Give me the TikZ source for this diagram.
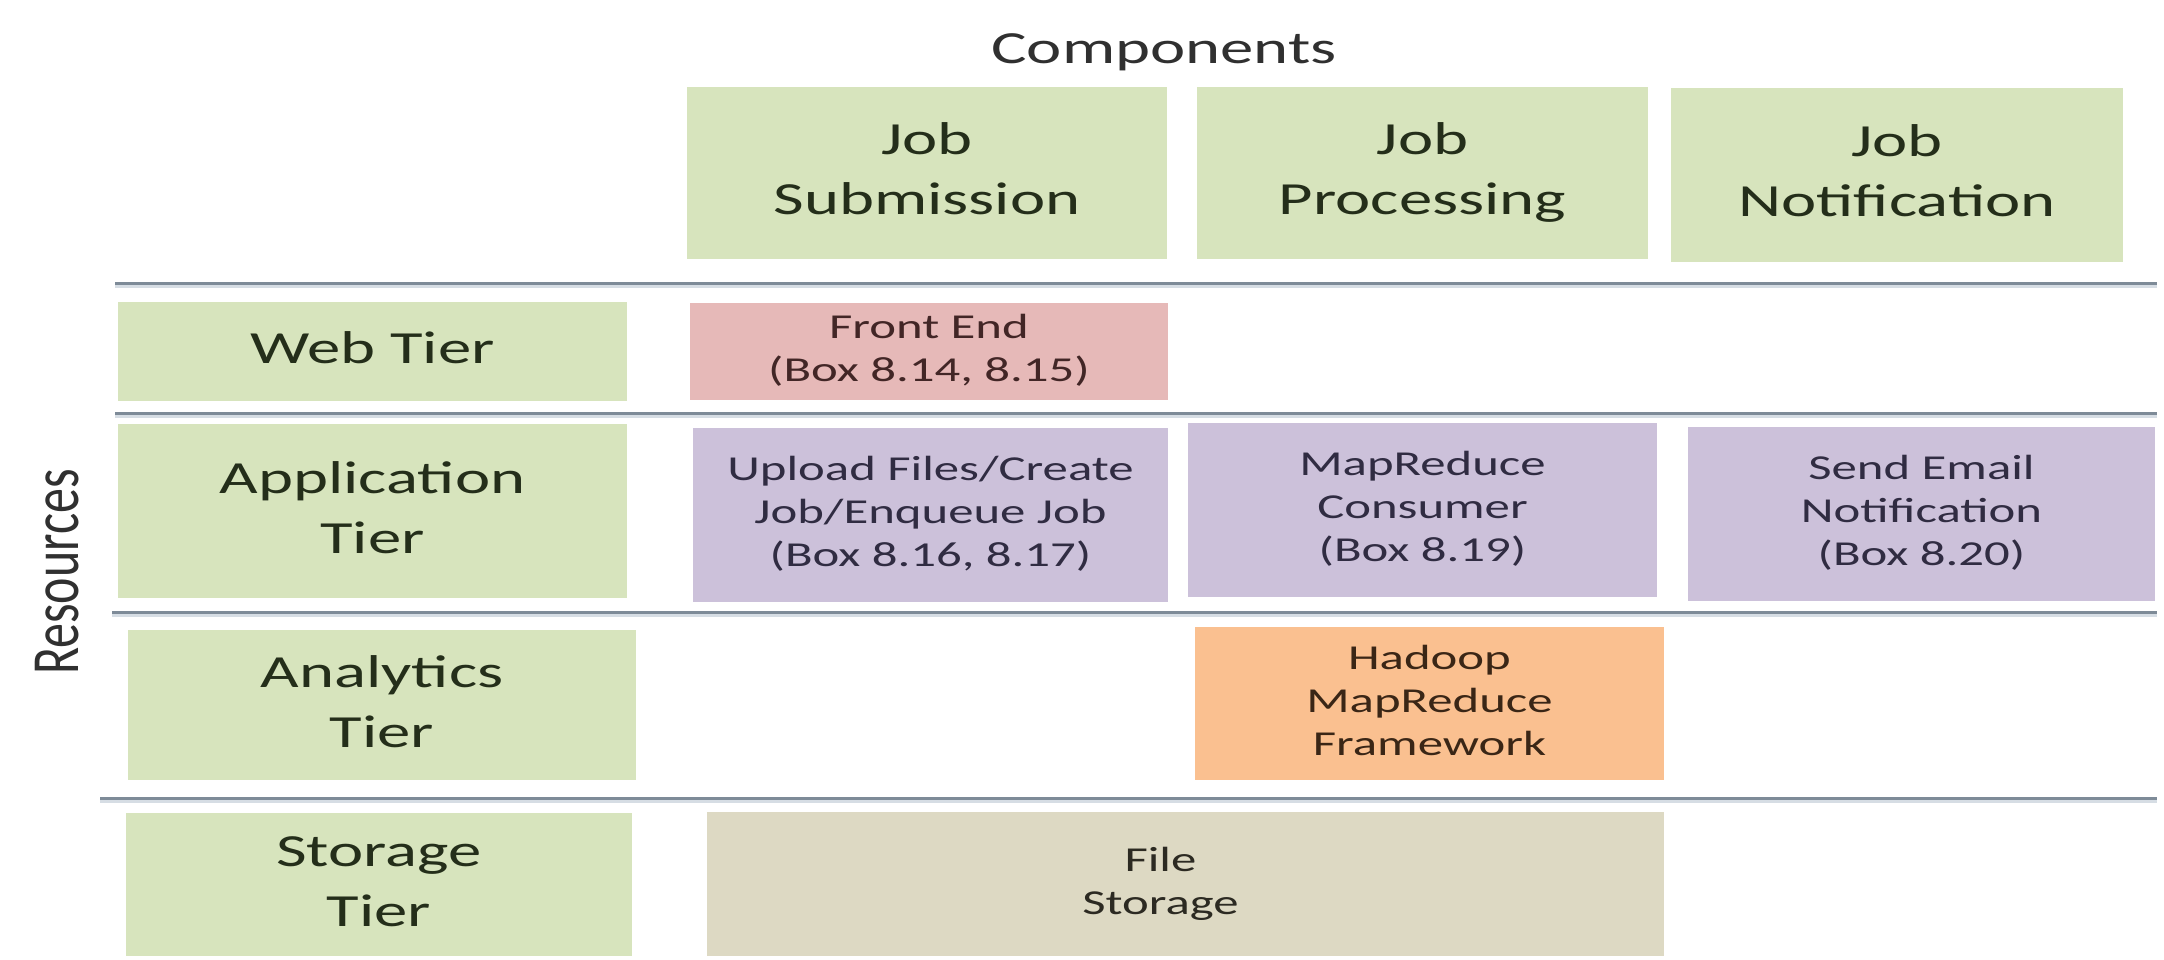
\documentclass[tikz,border=0pt]{standalone}
\usepackage{fontspec}
\setmainfont{Carlito}
\usepackage{graphicx}

% fills
\definecolor{tiergreen}{RGB}{215,228,189}
\definecolor{webpink}{RGB}{230,185,184}
\definecolor{apppurple}{RGB}{204,193,218}
\definecolor{anaorange}{RGB}{250,192,144}
\definecolor{stotan}{RGB}{221,217,195}
% text colours
\definecolor{txtgreen}{RGB}{36,46,26}
\definecolor{txtpink}{RGB}{66,38,38}
\definecolor{txtpurple}{RGB}{48,44,66}
\definecolor{txtorange}{RGB}{58,38,22}
\definecolor{txttan}{RGB}{44,42,34}
\definecolor{txtgray}{RGB}{48,48,48}
% separators
\definecolor{sepline}{RGB}{126,139,152}
\definecolor{sepshade}{RGB}{214,221,228}

% wide multi-line text block
\newcommand{\widetext}[1]{\scalebox{1.45}[1]{\begin{tabular}{@{}c@{}}#1\end{tabular}}}
\newcommand{\bigfont}{\fontsize{46}{60}\selectfont}
\newcommand{\smallfont}{\fontsize{35}{43}\selectfont}

\begin{document}
\begin{tikzpicture}[x=1pt,y=-1pt,
  cell/.style={rectangle, draw=none, inner sep=0pt, align=center},
  headbox/.style={cell, fill=tiergreen, text=txtgreen, font=\bigfont},
  tierbox/.style={cell, fill=tiergreen, text=txtgreen, font=\bigfont},
  webbox/.style={cell, fill=webpink, text=txtpink, font=\smallfont},
  appbox/.style={cell, fill=apppurple, text=txtpurple, font=\smallfont},
  anabox/.style={cell, fill=anaorange, text=txtorange, font=\smallfont},
  stobox/.style={cell, fill=stotan, text=txttan, font=\smallfont},
  sepshadow/.style={line width=3pt, sepshade},
  separator/.style={line width=3pt, sepline}
]
\useasboundingbox (0,0) rectangle (2164,960);
\fill[white] (0,0) rectangle (2164,960);

% axis titles
\node[anchor=base, text=txtgray, font=\bigfont, inner sep=0pt] (comp) at (1164,64)
  {\scalebox{1.45}[1]{Components}};
\node[rotate=90, text=txtgray, font=\fontsize{50}{60}\selectfont, inner sep=0pt] (res) at (57,572)
  {\scalebox{1}[1.35]{Resources}};

% row separators
\coordinate (s1a) at (115,283);  \coordinate (s1b) at (2157,283);
\coordinate (s2a) at (115,413);  \coordinate (s2b) at (2157,413);
\coordinate (s3a) at (112,612);  \coordinate (s3b) at (2157,612);
\coordinate (s4a) at (100,798);  \coordinate (s4b) at (2157,798);
\foreach \s in {1,2,3,4}{
  \draw[sepshadow] ([yshift=-3pt]s\s a) -- ([yshift=-3pt]s\s b);
  \draw[separator] (s\s a) -- (s\s b);
}

% component headers
\node[headbox, minimum width=480, minimum height=172] (js) at (927,173)
  {\widetext{Job\\Submission}};
\node[headbox, minimum width=451, minimum height=172] (jp) at (1422.5,173)
  {\widetext{Job\\Processing}};
\node[headbox, minimum width=452, minimum height=174] (jn) at (1897,175)
  {\widetext{Job\\Notification}};

% resource tiers
\node[tierbox, minimum width=509, minimum height=99] (web) at (372.5,351.5)
  {\widetext{Web Tier}};
\node[tierbox, minimum width=509, minimum height=174] (app) at (372.5,511)
  {\widetext{Application\\Tier}};
\node[tierbox, minimum width=508, minimum height=150] (ana) at (382,705)
  {\widetext{Analytics\\Tier}};
\node[tierbox, minimum width=506, minimum height=143] (sto) at (379,884.5)
  {\widetext{Storage\\Tier}};

% web tier
\node[webbox, minimum width=478, minimum height=97] (fe) at (929,351.5)
  {\widetext{Front End\\(Box 8.14, 8.15)}};

% application tier
\node[appbox, minimum width=475, minimum height=174] (upl) at (930.5,515)
  {\widetext{Upload Files/Create\\Job/Enqueue Job\\(Box 8.16, 8.17)}};
\node[appbox, minimum width=469, minimum height=174] (mrc) at (1422.5,510)
  {\widetext{MapReduce\\Consumer\\(Box 8.19)}};
\node[appbox, minimum width=467, minimum height=174] (mail) at (1921.5,514)
  {\widetext{Send Email\\Notification\\(Box 8.20)}};

% analytics tier
\node[anabox, minimum width=469, minimum height=153] (hmr) at (1429.5,703.5)
  {\widetext{Hadoop\\MapReduce\\Framework}};

% storage tier
\node[stobox, minimum width=957, minimum height=144] (fst) at (1185.5,884)
  {\hspace*{-50pt}\widetext{File\\Storage}};
\end{tikzpicture}
\end{document}
